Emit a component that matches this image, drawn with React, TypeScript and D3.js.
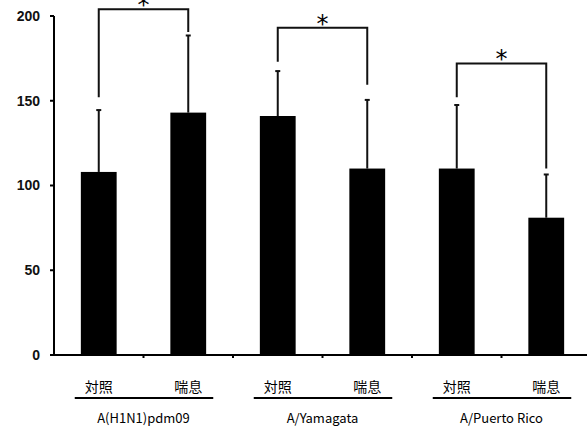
import React from 'react';
import * as d3 from 'd3';

// values
const groups = ['A(H1N1)pdm09', 'A/Yamagata', 'A/Puerto Rico'];
const conditions = ['対照', '喘息'];
const means = [108, 143, 141, 110, 110, 81];
const sds = [36.5, 45.5, 26.5, 40.5, 37.5, 25.5];
const yTicks = [0, 50, 100, 150, 200];
// significance brackets: top level, left leg end, right leg end (data units)
const bracketTop = [204, 193, 172];
const bracketLeft = [152, 173, 152];
const bracketRight = [190.5, 159.5, 110];

const W = 587;
const H = 430;
const margin = { top: 16, right: -4, bottom: 75, left: 54 };

const App = () => {
  const slots = groups.flatMap(g => conditions.map(c => `${g}|${c}`));

  const x = d3
    .scaleBand()
    .domain(slots)
    .range([margin.left, W - margin.right])
    .padding(0);

  const y = d3
    .scaleLinear()
    .domain([0, 200])
    .range([H - margin.bottom, margin.top]);

  const bw = x.bandwidth();
  const barW = bw * 0.4;
  const cx = (i: number) => (x(slots[i]) as number) + bw / 2;
  const y0 = y(0);

  const labelFont = '"Noto Sans CJK JP", "DejaVu Sans", sans-serif';

  return (
    <svg width={W} height={H} style={{ position: 'absolute', left: 0, top: 0, background: '#fff' }}>
      {/* y axis */}
      <line x1={margin.left} x2={margin.left} y1={y(200)} y2={y0} stroke="#000" strokeWidth={2} />
      {yTicks.map(t => (
        <g key={t}>
          <line x1={margin.left - 4} x2={margin.left} y1={y(t)} y2={y(t)} stroke="#000" strokeWidth={2} />
          <text
            x={margin.left - 14}
            y={y(t)}
            dy="0.35em"
            textAnchor="end"
            fontFamily='"Liberation Sans", Arial, sans-serif'
            fontWeight="bold"
            fontSize={14}
            fill="#111"
          >
            {t}
          </text>
        </g>
      ))}

      {/* bars */}
      {means.map((m, i) => (
        <g key={i}>
          <line x1={cx(i)} x2={cx(i)} y1={y(m)} y2={y(m + sds[i])} stroke="#111" strokeWidth={2} />
          <line x1={cx(i) - 2.5} x2={cx(i) + 2.5} y1={y(m + sds[i])} y2={y(m + sds[i])} stroke="#111" strokeWidth={2} />
          <rect x={cx(i) - barW / 2} y={y(m)} width={barW} height={y0 - y(m)} fill="#000" />
        </g>
      ))}

      {/* x axis */}
      <line x1={margin.left} x2={W} y1={y0} y2={y0} stroke="#000" strokeWidth={2} />
      {slots.map((s, i) =>
        i === 0 ? null : (
          <line key={s} x1={x(s)} x2={x(s)} y1={y0} y2={y0 + 3} stroke="#000" strokeWidth={2} />
        )
      )}

      {/* condition labels, underline and group labels */}
      {slots.map((s, i) => (
        <text key={s} x={cx(i)} y={y0 + 32} dy="0.35em" textAnchor="middle" fontFamily={labelFont} fontSize={14} fill="#000">
          {conditions[i % 2]}
        </text>
      ))}
      {groups.map((g, gi) => {
        const a = cx(gi * 2);
        const b = cx(gi * 2 + 1);
        return (
          <g key={g}>
            <line x1={a - 24} x2={b + 25} y1={y0 + 43} y2={y0 + 43} stroke="#000" strokeWidth={2} />
            <text x={(a + b) / 2} y={y0 + 63} dy="0.35em" textAnchor="middle" fontFamily={labelFont} fontSize={13} fill="#000">
              {g}
            </text>
          </g>
        );
      })}

      {/* significance brackets */}
      {groups.map((g, gi) => {
        const a = cx(gi * 2);
        const b = cx(gi * 2 + 1);
        const path = d3.path();
        path.moveTo(a, y(bracketLeft[gi]));
        path.lineTo(a, y(bracketTop[gi]));
        path.lineTo(b, y(bracketTop[gi]));
        path.lineTo(b, y(bracketRight[gi]));
        return (
          <g key={g}>
            <path d={path.toString()} fill="none" stroke="#111" strokeWidth={2} />
            <text
              x={(a + b) / 2}
              y={y(bracketTop[gi]) + 4}
              textAnchor="middle"
              fontFamily='"DejaVu Sans", sans-serif'
              fontSize={24}
              fill="#000"
            >
              *
            </text>
          </g>
        );
      })}
    </svg>
  );
};

export default App;
